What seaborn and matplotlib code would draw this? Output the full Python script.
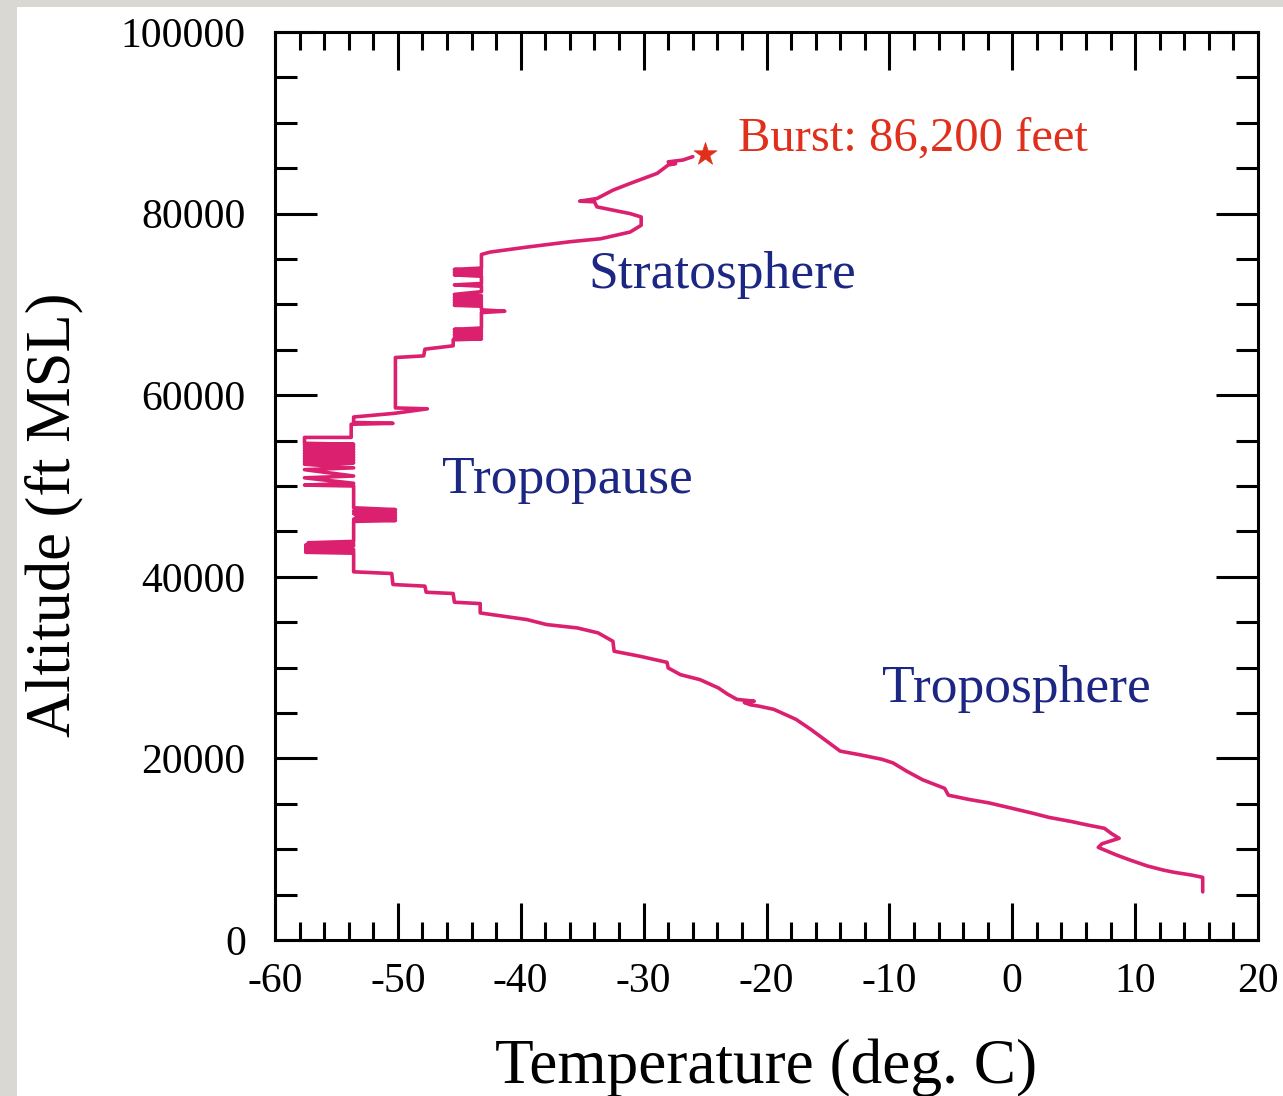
import matplotlib
matplotlib.use("Agg")
import matplotlib.pyplot as plt
import pandas as pd
import seaborn as sns
from matplotlib.patches import Rectangle
from matplotlib.ticker import MultipleLocator

# Balloon sounding: temperature (deg C) vs altitude (ft MSL)
TEMP_C = [
    15.5, 15.5, 14.6, 13.2, 12.3, 11.0, 9.6, 8.5, 7.0, 7.3, 8.7, 8.1, 7.5, 6.0,
    4.8, 3.0, 1.7, 0.0, -1.9, -3.6, -5.2, -5.5, -7.3, -8.6, -9.7, -10.6, -12.4,
    -14.0, -14.7, -15.6, -16.4, -17.6, -19.4, -20.6, -21.3, -21.8, -21.0, -22.4,
    -23.2, -23.9, -25.4, -27.0, -28.0, -28.1, -30.3, -32.4, -32.5, -33.7, -35.4,
    -37.9, -39.5, -41.4, -43.3, -43.3, -45.4, -45.5, -47.7, -47.8, -50.4, -50.5,
    -53.6, -53.6,
    # tropopause oscillations
    -57.5, -53.6, -57.5, -53.6, -57.5, -53.8, -57.5, -53.6, -57.5, -53.6,
    -57.3, -53.6,
    -53.6, -50.2, -53.6, -50.2, -53.4, -50.2, -53.6, -50.2, -53.6, -50.2, -53.6,
    -53.6, -57.6, -53.6, -57.6, -53.6, -57.6, -53.6, -57.6, -53.6, -57.6, -53.6,
    -57.6, -53.6, -57.6, -53.6, -57.6, -53.6, -57.6, -53.6, -57.6, -53.6, -57.6,
    -53.6, -57.6, -57.6, -53.8,
    -53.8, -50.4, -53.6, -53.6, -50.3, -47.6, -50.2,
    # lower stratosphere
    -50.2, -47.9, -47.8, -45.5, -45.5,
    -43.2, -45.4, -43.2, -45.4, -43.2, -45.4, -43.2, -45.4, -43.2,
    -43.2, -41.3, -43.2, -43.2, -45.4, -43.2, -45.4, -43.2, -45.4, -43.2, -45.4,
    -43.2, -45.4, -43.2, -43.2, -45.4, -43.2, -43.2, -45.4, -43.2, -45.4, -43.2,
    -45.4, -43.2, -43.2,
    # warming layer up to burst
    -42.5, -39.5, -36.0, -33.5, -31.1, -30.2, -30.2, -31.1, -33.8, -34.0, -35.2,
    -33.8, -32.5, -31.1, -30.0, -28.9, -28.0, -27.4, -28.0, -26.8, -26.0,
]
ALT_FT = [
    5300, 6900, 7150, 7450, 7700, 8150, 8800, 9350, 10200, 10600, 11200, 11700,
    12300, 12700, 13050, 13500, 13950, 14500, 15100, 15500, 15950, 16700, 17650,
    18600, 19500, 19900, 20400, 20800, 21500, 22400, 23200, 24300, 25400, 25750,
    25900, 26150, 26300, 26500, 27100, 27750, 28670, 29220, 29960, 30580, 31250,
    31800, 32900, 33820, 34370, 34740, 35290, 35660, 36020, 37050, 37200, 38160,
    38300, 38970, 39150, 40360, 40550, 42600,
    42700, 42800, 42900, 43000, 43100, 43200, 43300, 43400, 43500, 43600,
    43750, 43900,
    46100, 46200, 46350, 46500, 46650, 46800, 46950, 47100, 47250, 47400, 47600,
    50000, 50100, 50300, 50900, 51100, 51800, 52000, 52400, 52550, 52700, 52850,
    53000, 53150, 53300, 53450, 53600, 53750, 53900, 54050, 54200, 54350, 54500,
    54600, 54700, 55350, 55350,
    56800, 56900, 57000, 57600, 58000, 58500, 58600,
    64150, 64330, 65070, 65440, 66100,
    66200, 66350, 66500, 66650, 66800, 66950, 67100, 67250, 67400,
    69100, 69250, 69400, 69800, 69900, 70050, 70200, 70350, 70500, 70650, 70800,
    70950, 71100, 71400, 72000, 72150, 72300, 73100, 73250, 73400, 73550, 73700,
    73850, 74000, 75500,
    75760, 76310, 76900, 77230, 77970, 78710, 79630, 80000, 80740, 81300, 81370,
    81660, 82580, 83320, 83870, 84430, 85350, 85500, 85700, 85900, 86270,
]

BURST_TEMP = [-25.0]
BURST_ALT = [86600]
BURST_LABEL = "Burst: 86,200 feet"

LAYER_LABELS = ["Stratosphere", "Tropopause", "Troposphere"]
LAYER_TEMP = [-34.5, -46.4, -10.6]
LAYER_ALT = [71800, 49200, 26200]

LINE_COLOR = "#dc2070"
BURST_COLOR = "#e0301c"
LABEL_COLOR = "#1c2683"

sns.set_theme(style="ticks")
plt.rcParams["font.family"] = ["Liberation Serif", "DejaVu Serif"]
plt.rcParams["axes.unicode_minus"] = False

fig = plt.figure(figsize=(12.83, 10.96), dpi=100, facecolor="#d9d8d3")
fig.patches.append(Rectangle((17 / 1283, 0), 1, 1 - 7 / 1096, transform=fig.transFigure,
                             facecolor="white", edgecolor="none", zorder=-10))
ax = fig.add_axes([275 / 1283, 1 - 940 / 1096, 983 / 1283, 908 / 1096])
ax.set_facecolor("white")

profile = pd.DataFrame({"temp": TEMP_C, "alt": ALT_FT})
sns.lineplot(data=profile, x="temp", y="alt", sort=False, estimator=None,
             color=LINE_COLOR, linewidth=2.6, ax=ax)

burst = pd.DataFrame({"temp": BURST_TEMP, "alt": BURST_ALT})
sns.scatterplot(data=burst, x="temp", y="alt", marker="*", s=300, color=BURST_COLOR,
                edgecolor=BURST_COLOR, linewidth=0.5, ax=ax, zorder=5)

ax.text(-22.33, 86950, BURST_LABEL, color=BURST_COLOR, fontsize=35, va="baseline")
for lab, t, a in zip(LAYER_LABELS, LAYER_TEMP, LAYER_ALT):
    ax.text(t, a, lab, color=LABEL_COLOR, fontsize=38.5, va="baseline")

ax.set_xlim(-60, 20)
ax.set_ylim(0, 100000)
ax.xaxis.set_major_locator(MultipleLocator(10))
ax.xaxis.set_minor_locator(MultipleLocator(2))
ax.yaxis.set_major_locator(MultipleLocator(20000))
ax.yaxis.set_minor_locator(MultipleLocator(5000))

for side in ax.spines.values():
    side.set_linewidth(2.2)
    side.set_color("black")
ax.tick_params(which="both", direction="in", top=True, right=True, color="black",
               width=2.2, labelsize=30, labelcolor="black")
ax.tick_params(axis="x", which="major", length=27, pad=16)
ax.tick_params(axis="x", which="minor", length=13)
ax.tick_params(axis="y", which="major", length=30, pad=21)
ax.tick_params(axis="y", which="minor", length=16)

ax.set_xlabel("Temperature (deg. C)", fontsize=45.5, color="black")
ax.set_ylabel("Altitude (ft MSL)", fontsize=45, color="black")
ax.xaxis.set_label_coords(0.5, -0.108)
ax.yaxis.set_label_coords(-0.195, 0.468)

fig.savefig("out.png", dpi=100, facecolor=fig.get_facecolor())
